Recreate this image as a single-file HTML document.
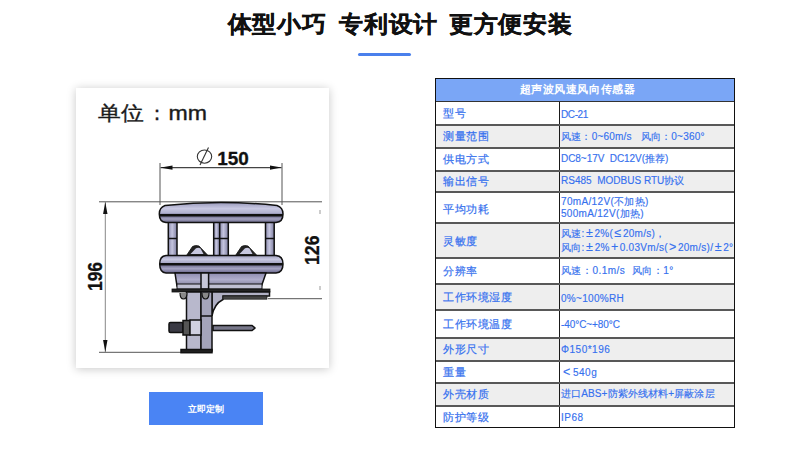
<!DOCTYPE html>
<html><head><meta charset="utf-8">
<style>
*{margin:0;padding:0;box-sizing:border-box}
html,body{width:800px;height:450px;background:#fff;overflow:hidden;font-family:"Liberation Sans",sans-serif}
.abs{position:absolute}
#title{left:0;top:6.5px;width:800px;text-align:center;font-size:24.5px;-webkit-text-stroke:0.35px #111;transform:scale(.988,.95);transform-origin:400.5px 16px;font-weight:bold;color:#111;line-height:34px;white-space:pre}
#bar{left:358px;top:53px;width:53px;height:3px;background:#4a80ec;border-radius:2px}
#photo{left:76px;top:88px;width:253px;height:280px;background:#fff;box-shadow:0 1px 9px rgba(0,0,0,.22)}
#btn{left:149px;top:392px;width:114px;height:32.5px;background:#4a84f4;color:#fff;font-size:9.4px;text-align:center;line-height:33.5px;font-weight:bold}
#tbl{left:435px;top:78px;width:300px;height:349.5px;border:1px solid #111;background:#fff}
.row{position:absolute;left:0;width:298px;border-top:2px solid #585858}
.row:nth-child(2){border-top:1px solid #333}
.c1{position:absolute;left:0;width:124px;top:0;bottom:0;border-right:1.5px solid #1a1a1a;color:#3570ee;font-size:11.45px;letter-spacing:.5px;padding-left:7.3px;-webkit-text-stroke:0.2px #3570ee;display:flex;align-items:center}
.c2{position:absolute;left:125px;right:0;top:0;bottom:0;color:#3570ee;font-size:10px;padding-left:0;-webkit-text-stroke:0.15px #3570ee;display:flex;align-items:center;line-height:13px;white-space:pre}
.g{background:#eeeeee}
.ln{display:block;white-space:pre}
#r4l1{margin-top:-1px}
#r5l1{margin-top:1px}
.c2 i{font-style:normal;display:inline-block;width:10px;text-align:center;font-size:12.5px;line-height:10px}
#hdr{position:absolute;left:0;top:0;width:298px;height:22px;background:#7aa6f6;color:#fff;font-size:11.4px;font-weight:bold;letter-spacing:.55px;text-align:center;line-height:20px;padding-right:15px}
</style></head><body>
<div id="title" class="abs"><span>体型小巧</span><span style="margin-left:13px">专利设计</span><span style="margin-left:11px">更方便安装</span></div>
<div id="bar" class="abs"></div>
<div id="photo" class="abs"></div>
<svg class="abs" style="left:76px;top:88px" width="253" height="280" viewBox="76 88 253 280">
<defs>
<linearGradient id="gCap" x1="0" y1="0" x2="0" y2="1">
<stop offset="0" stop-color="#9a9abb"/><stop offset=".3" stop-color="#c8c8e2"/><stop offset=".5" stop-color="#b4b4d2"/><stop offset=".58" stop-color="#9090b0"/><stop offset=".6" stop-color="#111"/><stop offset=".68" stop-color="#111"/><stop offset=".72" stop-color="#7c7a9c"/><stop offset=".82" stop-color="#a4a2c0"/><stop offset="1" stop-color="#6a6888"/>
</linearGradient>
<linearGradient id="gRing" x1="0" y1="0" x2="0" y2="1">
<stop offset="0" stop-color="#9c9cbc"/><stop offset=".22" stop-color="#c8c8e0"/><stop offset=".42" stop-color="#a8a8c6"/><stop offset=".45" stop-color="#111"/><stop offset=".54" stop-color="#111"/><stop offset=".6" stop-color="#7e7c9e"/><stop offset=".75" stop-color="#a6a4c2"/><stop offset="1" stop-color="#66648a"/>
</linearGradient>
<linearGradient id="gPil" x1="0" y1="0" x2="1" y2="0">
<stop offset="0" stop-color="#8c8cae"/><stop offset=".45" stop-color="#c4c4de"/><stop offset="1" stop-color="#7e7ea0"/>
</linearGradient>
<linearGradient id="gBase" x1="0" y1="0" x2="0" y2="1">
<stop offset="0" stop-color="#8e8cb0"/><stop offset=".5" stop-color="#b0aecc"/><stop offset="1" stop-color="#84829e"/>
</linearGradient>
<marker id="ar" viewBox="0 0 12 4.4" refX="12" refY="2.2" markerWidth="12" markerHeight="4.4" orient="auto-start-reverse" markerUnits="userSpaceOnUse"><path d="M0 0L12 2.2L0 4.4z" fill="#111"/></marker>
</defs>
<g font-family="Liberation Sans, sans-serif" fill="#1a1a1a">
<text x="98.3" y="120" font-size="20" textLength="45.5" lengthAdjust="spacingAndGlyphs" stroke="#1a1a1a" stroke-width="0.35">单位</text>
<text x="147" y="120" font-size="20" stroke="#1a1a1a" stroke-width="0.3">：</text>
<text x="168.5" y="120" font-size="21" textLength="38.5" lengthAdjust="spacingAndGlyphs" stroke="#1a1a1a" stroke-width="0.4">mm</text>
</g>
<g stroke="#555" stroke-width="1" fill="none">
<line x1="160" y1="163" x2="160" y2="205"/>
<line x1="282" y1="163" x2="282" y2="205"/>
<line x1="99" y1="201.8" x2="322" y2="201.8"/>
<line x1="99" y1="352.3" x2="182" y2="352.3"/>
<line x1="268" y1="298.7" x2="322" y2="298.7"/>
</g>
<g stroke="#444" stroke-width="1.2" fill="none">
<line x1="160.5" y1="167.6" x2="281.5" y2="167.6" marker-start="url(#ar)" marker-end="url(#ar)"/>
</g>
<g stroke="#888" stroke-width="1" fill="none">
<line x1="105.3" y1="202" x2="105.3" y2="352" marker-start="url(#ar)" marker-end="url(#ar)"/>
</g>
<g stroke="#999" stroke-width="1"><line x1="320" y1="210" x2="320" y2="214"/><line x1="320" y1="286" x2="320" y2="290"/></g>
<g fill="#111" font-family="Liberation Sans, sans-serif" font-weight="bold" stroke="#111" stroke-width="0.3">
<text x="217.2" y="164.9" font-size="18" textLength="31.5" lengthAdjust="spacingAndGlyphs">150</text>
<text transform="translate(101.8 291) rotate(-90)" font-size="20" textLength="29" lengthAdjust="spacingAndGlyphs">196</text>
<text transform="translate(319 265) rotate(-90)" font-size="20" textLength="29.5" lengthAdjust="spacingAndGlyphs">126</text>
</g>
<g fill="none" stroke="#333" stroke-width="1.1"><ellipse cx="204.5" cy="156.6" rx="7.2" ry="6.6"/><line x1="200" y1="165" x2="208.5" y2="147.5"/></g>
<!-- device -->
<g stroke="#111" stroke-width="1.5">
<!-- pillars -->
<rect x="168.3" y="221" width="8.7" height="36" fill="url(#gPil)"/>
<rect x="213.7" y="221" width="6" height="36" fill="url(#gPil)"/>
<rect x="219.7" y="221" width="8.6" height="36" fill="url(#gPil)"/>
<rect x="265.5" y="221" width="8.7" height="36" fill="url(#gPil)"/>
<line x1="168" y1="238.5" x2="177" y2="238.5"/><line x1="213.5" y1="238.5" x2="228.5" y2="238.5"/><line x1="265.5" y1="238.5" x2="274.5" y2="238.5"/>
<!-- transducers -->
<path d="M186.5 255.5 L192.5 246.5 Q195.5 244.8 199 246 L208 255.5z" fill="#222" stroke-width="0.8"/>
<path d="M190.5 254 L196 248.2 Q198.5 247.2 200.5 248.5 L203.5 254z" fill="#c8c8e0" stroke="none"/>
<path d="M235.5 255.5 L241.5 246.5 Q244.5 244.8 248 246 L257 255.5z" fill="#222" stroke-width="0.8"/>
<path d="M239.5 254 L245 248.2 Q247.5 247.2 249.5 248.5 L252.5 254z" fill="#c8c8e0" stroke="none"/>
<!-- top cap -->
<path d="M165 205.5 Q221 199.5 277 205.5 Q283 207.5 283 214 Q283 222 276 222.5 L166 222.5 Q159.3 222 159.3 214 Q159.3 207.5 165 205.5z" fill="url(#gCap)"/>
<!-- lower ring -->
<path d="M166 255.5 L276 255.5 Q283 256 283 264 Q283 272.5 276 273 L166 273 Q159.7 272.5 159.7 264 Q159.7 256 166 255.5z" fill="url(#gRing)"/>
<!-- base body -->
<path d="M175 273 L266 273 L261.5 286 L177 286z" fill="url(#gBase)"/>
<rect x="177" y="284" width="85" height="5" fill="#c0c0d2" stroke-width="1"/>
<rect x="201" y="273" width="7.6" height="16" fill="#c6c6d8"/>
<!-- flange -->
<rect x="172" y="289" width="98" height="3" fill="#222" stroke-width="0.8"/>
<!-- bracket arm -->
<path d="M212 292 L269.5 292 L269.5 296 L223 296 L223 299.5 Q214 304 212 316z" fill="#b0b0c4"/>
<rect x="223" y="296" width="44" height="3.2" fill="#444" stroke-width="0.6"/>
<!-- pole -->
<rect x="186.5" y="292" width="14.5" height="59" fill="#b8b8cc"/>
<rect x="201" y="292" width="11" height="59" fill="#a4a4ba"/>
<line x1="201" y1="316" x2="212" y2="316"/>
<rect x="181" y="349.5" width="31" height="3.2" fill="#222"/>
<!-- bolt -->
<path d="M213 325.5 L252 325.5 L255 328 L252 330.5 L213 330.5z" fill="#77778a"/>
<rect x="169" y="322.5" width="14" height="10" fill="#3a3a44" rx="1.5"/>
<rect x="183" y="320.5" width="7" height="14.5" fill="#555"/>
<rect x="190" y="320" width="11" height="15" fill="#d0d0e0"/>
<path d="M180 293 Q180 299 183.5 299 Q187 299 187 293" fill="#888" stroke-width="1.1"/>
<path d="M202 293 Q202 299 205.5 299 Q209 299 209 293" fill="#888" stroke-width="1.1"/>
</g>
</svg>
<div id="btn" class="abs">立即定制</div>
<div id="tbl" class="abs">
<div id="hdr">超声波风速风向传感器</div>
<div class="row" style="top:22px;height:23px"><div class="c1">型号</div><div class="c2"><div><span class="ln" id="r0l0" style="letter-spacing:-0.40px;position:relative;top:1.9px">DC-21</span></div></div></div>
<div class="row g" style="top:45px;height:23px"><div class="c1">测量范围</div><div class="c2"><div><span class="ln" id="r1l0" style="letter-spacing:0.21px">风速：0~60m/s   风向：0~360°</span></div></div></div>
<div class="row" style="top:68px;height:23px"><div class="c1">供电方式</div><div class="c2"><div><span class="ln" id="r2l0" style="letter-spacing:-0.05px;position:relative;top:-1.0px">DC8~17V  DC12V(推荐)</span></div></div></div>
<div class="row g" style="top:91px;height:21px"><div class="c1">输出信号</div><div class="c2"><div><span class="ln" id="r3l0" style="letter-spacing:0.01px;position:relative;top:-0.7px">RS485  MODBUS RTU协议</span></div></div></div>
<div class="row" style="top:112px;height:31px"><div class="c1" style="padding-top:3px">平均功耗</div><div class="c2"><div><span class="ln" id="r4l0" style="letter-spacing:0.34px">70mA/12V(不加热)</span><span class="ln" id="r4l1" style="letter-spacing:0.30px">500mA/12V(加热)</span></div></div></div>
<div class="row g" style="top:143px;height:35px"><div class="c1" style="padding-top:2px">灵敏度</div><div class="c2"><div><span class="ln" id="r5l0" style="letter-spacing:0.24px">风速:<i>±</i>2%(<i>≤</i>20m/s)，</span><span class="ln" id="r5l1" style="letter-spacing:0.29px">风向:<i>±</i>2%<i>+</i>0.03Vm/s(<i>&gt;</i>20m/s)/<i>±</i>2°</span></div></div></div>
<div class="row" style="top:178px;height:26px"><div class="c1">分辨率</div><div class="c2"><div><span class="ln" id="r6l0" style="letter-spacing:0.47px;position:relative;top:-0.6px">风速：0.1m/s  风向：1°</span></div></div></div>
<div class="row g" style="top:204px;height:26px"><div class="c1">工作环境湿度</div><div class="c2"><div><span class="ln" id="r7l0" style="letter-spacing:0.30px;position:relative;top:1.0px">0%~100%RH</span></div></div></div>
<div class="row" style="top:230px;height:28px"><div class="c1">工作环境温度</div><div class="c2"><div><span class="ln" id="r8l0" style="letter-spacing:-0.07px">-40°C~+80°C</span></div></div></div>
<div class="row g" style="top:258px;height:23px"><div class="c1">外形尺寸</div><div class="c2"><div><span class="ln" id="r9l0" style="letter-spacing:0.51px">Φ150*196</span></div></div></div>
<div class="row" style="top:281px;height:22px"><div class="c1">重量</div><div class="c2"><div><span class="ln" id="r10l0" style="letter-spacing:0.5px"><i style="width:12px">&lt;</i>540g</span></div></div></div>
<div class="row g" style="top:303px;height:23px"><div class="c1">外壳材质</div><div class="c2"><div><span class="ln" id="r11l0" style="letter-spacing:0.12px;position:relative;top:-1.4px">进口ABS+防紫外线材料+屏蔽涂层</span></div></div></div>
<div class="row" style="top:326px;height:23px"><div class="c1">防护等级</div><div class="c2"><div><span class="ln" id="r12l0" style="letter-spacing:0.50px">IP68</span></div></div></div>
</div>
</body></html>
